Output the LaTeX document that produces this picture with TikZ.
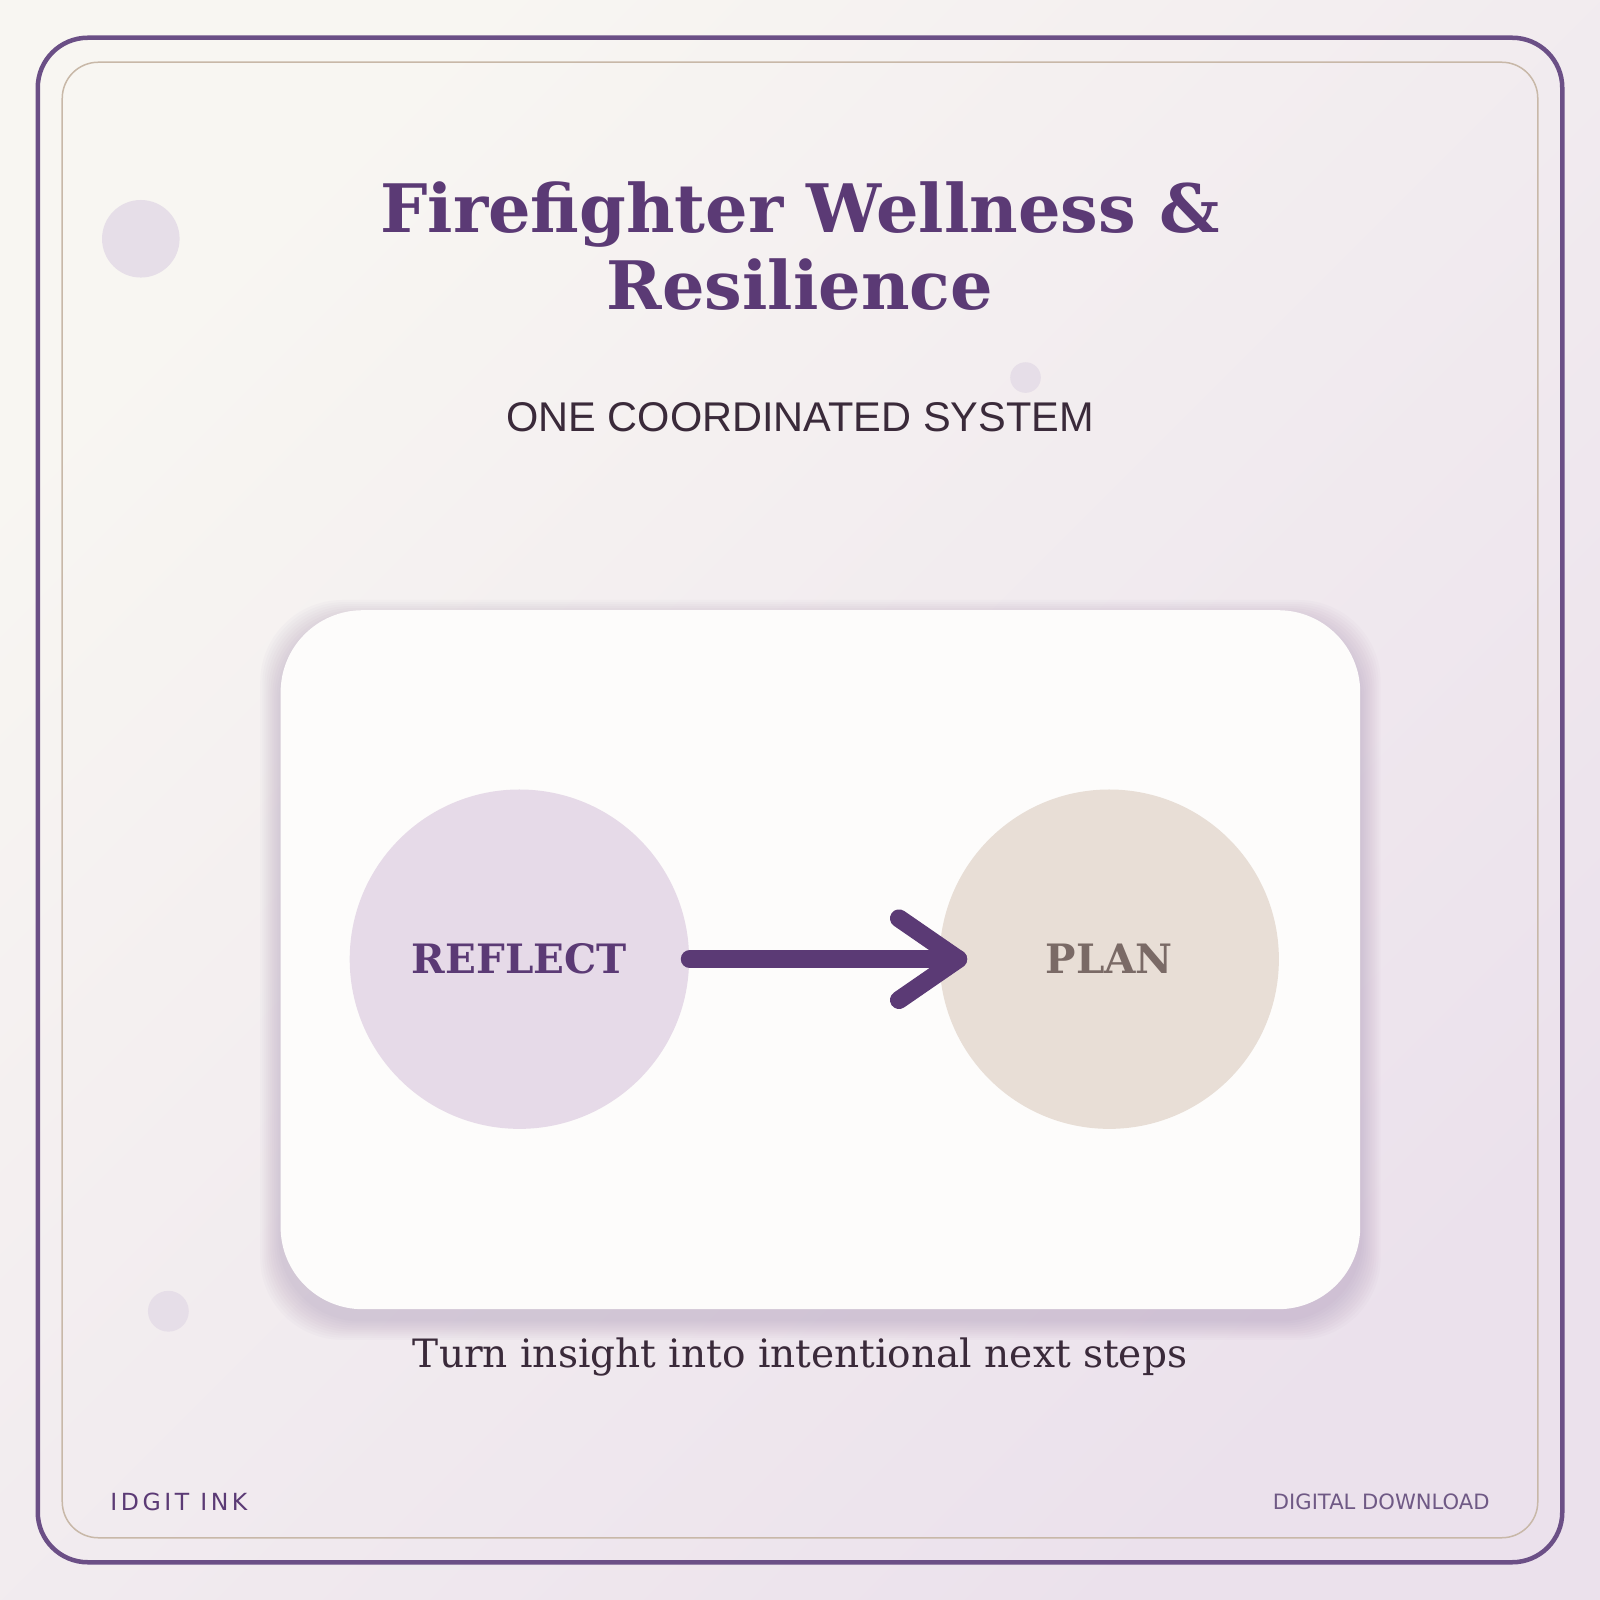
\documentclass[tikz,border=0pt]{standalone}
\usepackage{fontspec}
\setmainfont{DejaVu Serif}
\newfontfamily\subfont{Liberation Sans}
\newfontfamily\footfont{DejaVu Sans}
\usetikzlibrary{positioning}
\definecolor{plum}{HTML}{5B3A75}
\definecolor{frame}{HTML}{6B4F86}
\definecolor{tan}{HTML}{C8B8A8}
\definecolor{dots}{HTML}{E6DEE8}
\definecolor{lilac}{HTML}{E6DAE8}
\definecolor{sand}{HTML}{E8DED6}
\definecolor{ink}{HTML}{3A2A3A}
\definecolor{stone}{HTML}{7A6A66}
\definecolor{bgA}{HTML}{F8F6F2}
\definecolor{bgD}{HTML}{EBE1EC}
\definecolor{haze}{HTML}{9A80A8}
\begin{document}
\begin{tikzpicture}[x=0.0102cm,y=-0.0102cm]
    	\tikzset{stage/.style={circle, inner sep=0pt, font=\fontsize{11.5}{14}\selectfont\bfseries},
    	         link/.style={draw=plum, line cap=round, line join=round}}
    	
    	% Background
    	\shade[left color=bgA, right color=bgD, shading angle=45] (0,0) rectangle (1568,1568);
    	\useasboundingbox (0,0) rectangle (1568,1568);
    	\draw[frame, line width=0.45mm, rounded corners=0.5cm] (37,37) rectangle (1531,1531);
    	\draw[tan, line width=0.15mm, rounded corners=0.36cm] (61,61) rectangle (1507,1507);
    	\fill[dots] (138,234) circle (38) (1005,370) circle (15) (165,1285) circle (20);
    	
    	% Titles
    	\node[plum, align=center, font=\fontsize{19}{22}\selectfont\bfseries] (title) at (784,241) {Firefighter Wellness \&\\Resilience};
    	\node[ink, font=\subfont\fontsize{11.8}{14}\selectfont] (sub) at (784,409) {ONE COORDINATED SYSTEM};
    	
    	% Card with soft shadow
    	\foreach \s in {2,4,...,20}
    	  \fill[haze, opacity=0.035, rounded corners=0.82cm] (275-\s,598-\s+10) rectangle (1333+\s,1283+\s+10);
    	\fill[white!70!bgA, rounded corners=0.82cm] (275,598) rectangle (1333,1283);
    	\node[stage, fill=lilac, text=plum, minimum size=3.39cm] (reflect) at (509,940) {REFLECT};
    	\node[stage, fill=sand, text=stone, minimum size=3.39cm] (plan) at (1087,940) {PLAN};
    	\coordinate (tip) at ([shift={(19,0)}]plan.west);
    	\draw[link, line width=1.8mm] (reflect.east) -- (tip);
    	\draw[link, line width=1.8mm] ([shift={(-58,-40)}]tip) -- (tip) -- ([shift={(-58,40)}]tip);
    	\node[ink, font=\fontsize{11.1}{14}\selectfont] (caption) at (784,1330) {Turn insight into intentional next steps};
    	
    	% Footer
    	\node[plum, anchor=west, font=\footfont\fontsize{6.7}{8}\selectfont\addfontfeatures{LetterSpace=15}] (brand) at (96,1472) {IDGIT INK};
    	\node[frame!80!gray, anchor=east, font=\footfont\fontsize{6}{8}\selectfont] (tag) at (1472,1472) {DIGITAL DOWNLOAD};
    \end{tikzpicture}
\end{document}
